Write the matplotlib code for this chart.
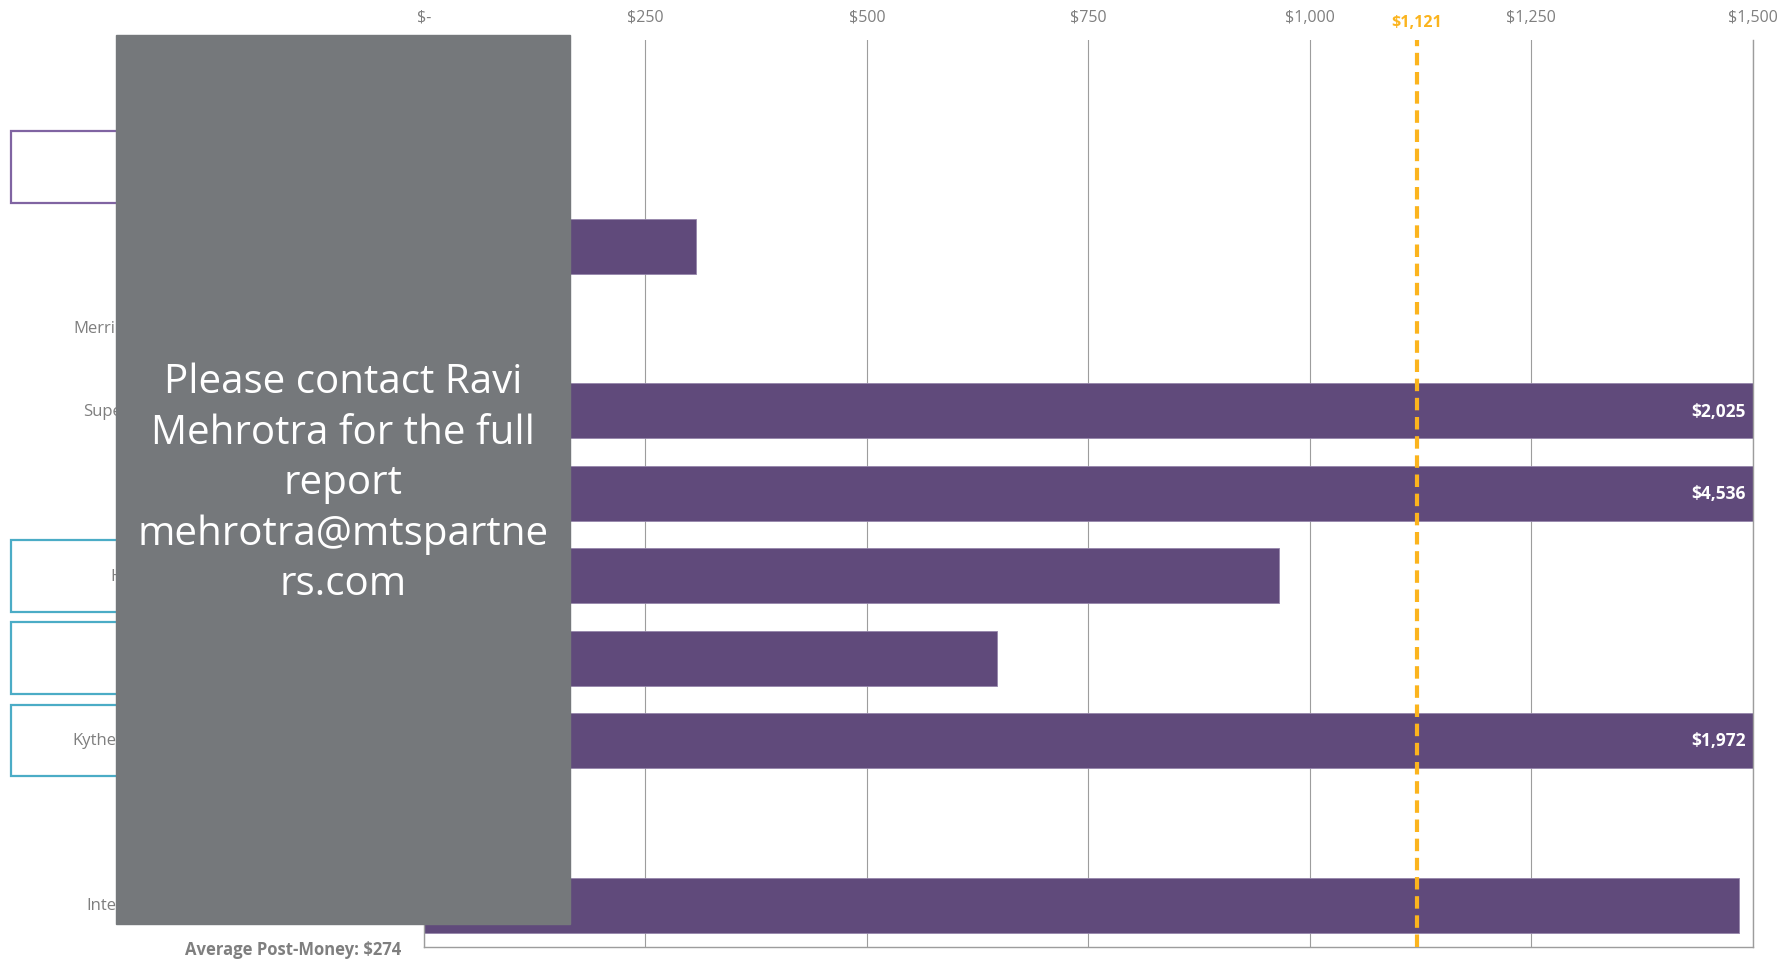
import matplotlib.pyplot as plt
import numpy as np
from matplotlib.patches import Rectangle
from matplotlib import transforms

plt.rcParams['font.family'] = ['Open Sans', 'DejaVu Sans']

# post-money valuations ($M), rows top to bottom; names only as far as they show
companies = ["", "", "", "Merri", "Supe", "", "H", "", "Kythe", "", "Inte"]
post_money = [120, 85, 307, 140, 2025, 4536, 965, 647, 1972, 49, 1485]
ticks = [0, 250, 500, 750, 1000, 1250, 1500]
tick_labels = ["$-", "$250", "$500", "$750", "$1,000", "$1,250", "$1,500"]
avg_note = "Average Post-Money: $274"
contact = "Please contact Ravi\nMehrotra for the full\nreport\nmehrotra@mtspartne\nrs.com"

# rows wrapped in outlined boxes on the left
purple_rows = [1]
teal_rows = [6, 7, 8]
# where each visible company name starts (figure pixels)
label_x = {3: 73, 4: 83, 6: 110, 8: 72, 10: 86}

W, H = 1792, 962
fig = plt.figure(figsize=(W / 100, H / 100), dpi=100)
ax = fig.add_axes([424 / W, 1 - 947.5 / H, (1752.6 - 424) / W, (947.5 - 41) / H])

bar_col = '#604a7b'
grey_txt = '#7f7f7f'
line_col = '#9d9d9d'
avg_col = '#fbb41e'

y = np.arange(len(post_money))
ax.barh(y, post_money, height=0.667, color=bar_col, edgecolor='#9585ab',
        linewidth=0.6, zorder=2)
ax.set_xlim(0, 1500)
ax.set_ylim(len(post_money) - 0.5, -0.5)

ax.set_xticks(ticks)
ax.set_xticklabels(tick_labels)
ax.xaxis.tick_top()
ax.tick_params(axis='x', length=0, pad=11, labelsize=11.5, labelcolor=grey_txt)
ax.set_yticks([])
ax.grid(axis='x', color=line_col, linewidth=0.8)
ax.set_axisbelow(True)
ax.spines['top'].set_visible(False)
for s in ['left', 'right', 'bottom']:
    ax.spines[s].set_color(line_col)
    ax.spines[s].set_linewidth(1.0)

# values that run past the axis get printed inside the bar end
xmax = ax.get_xlim()[1]
for yi, v in zip(y, post_money):
    if v > xmax:
        ax.annotate(f"${v:,.0f}", (xmax, yi), xytext=(-5, 0),
                    textcoords='offset points', ha='right', va='center',
                    color='white', fontsize=12.5, fontweight='bold', zorder=4)

avg = np.mean(post_money)
ax.axvline(avg, color=avg_col, linewidth=3, dashes=(3, 1.6), zorder=3)
ax.annotate(f"${avg:,.0f}", (avg, 1.0), xycoords=('data', 'axes fraction'),
            xytext=(0, 13), textcoords='offset points', ha='center', va='center',
            color=avg_col, fontsize=11.5, fontweight='bold', annotation_clip=False)

# left-hand labels (cut off where the cover panel starts) and highlight boxes
fy = transforms.blended_transform_factory(fig.transFigure, ax.transData)
cover_left = 116 / W
clip = transforms.TransformedBbox(transforms.Bbox([[0, 0], [cover_left, 1]]),
                                  fig.transFigure)
for r, x in label_x.items():
    t = fig.text(x / W, r, companies[r], transform=fy, ha='left', va='center',
                 fontsize=12, color=grey_txt)
    t.set_clip_box(clip)
for rows, col, dy in [(purple_rows, '#8064a2', 0.04), (teal_rows, '#4bacc6', 0.0)]:
    for r in rows:
        fig.add_artist(Rectangle((11 / W, r - 0.435 + dy), 380 / W, 0.87,
                                 transform=fy, fill=False, edgecolor=col,
                                 linewidth=1.6, zorder=1))

fig.text(293 / W, 1 - 950 / H, avg_note, ha='center', va='center',
         fontsize=12, fontweight='bold', color=grey_txt)

# grey cover panel with contact text
fig.add_artist(Rectangle((cover_left, 1 - 925 / H), 454 / W, 889 / H,
                         transform=fig.transFigure, color='#75787b', zorder=10))
fig.text(343 / W, 1 - 484 / H, contact, ha='center', va='center', fontsize=29,
         color='white', linespacing=1.33, zorder=11)

fig.savefig('out.png', dpi=100)
